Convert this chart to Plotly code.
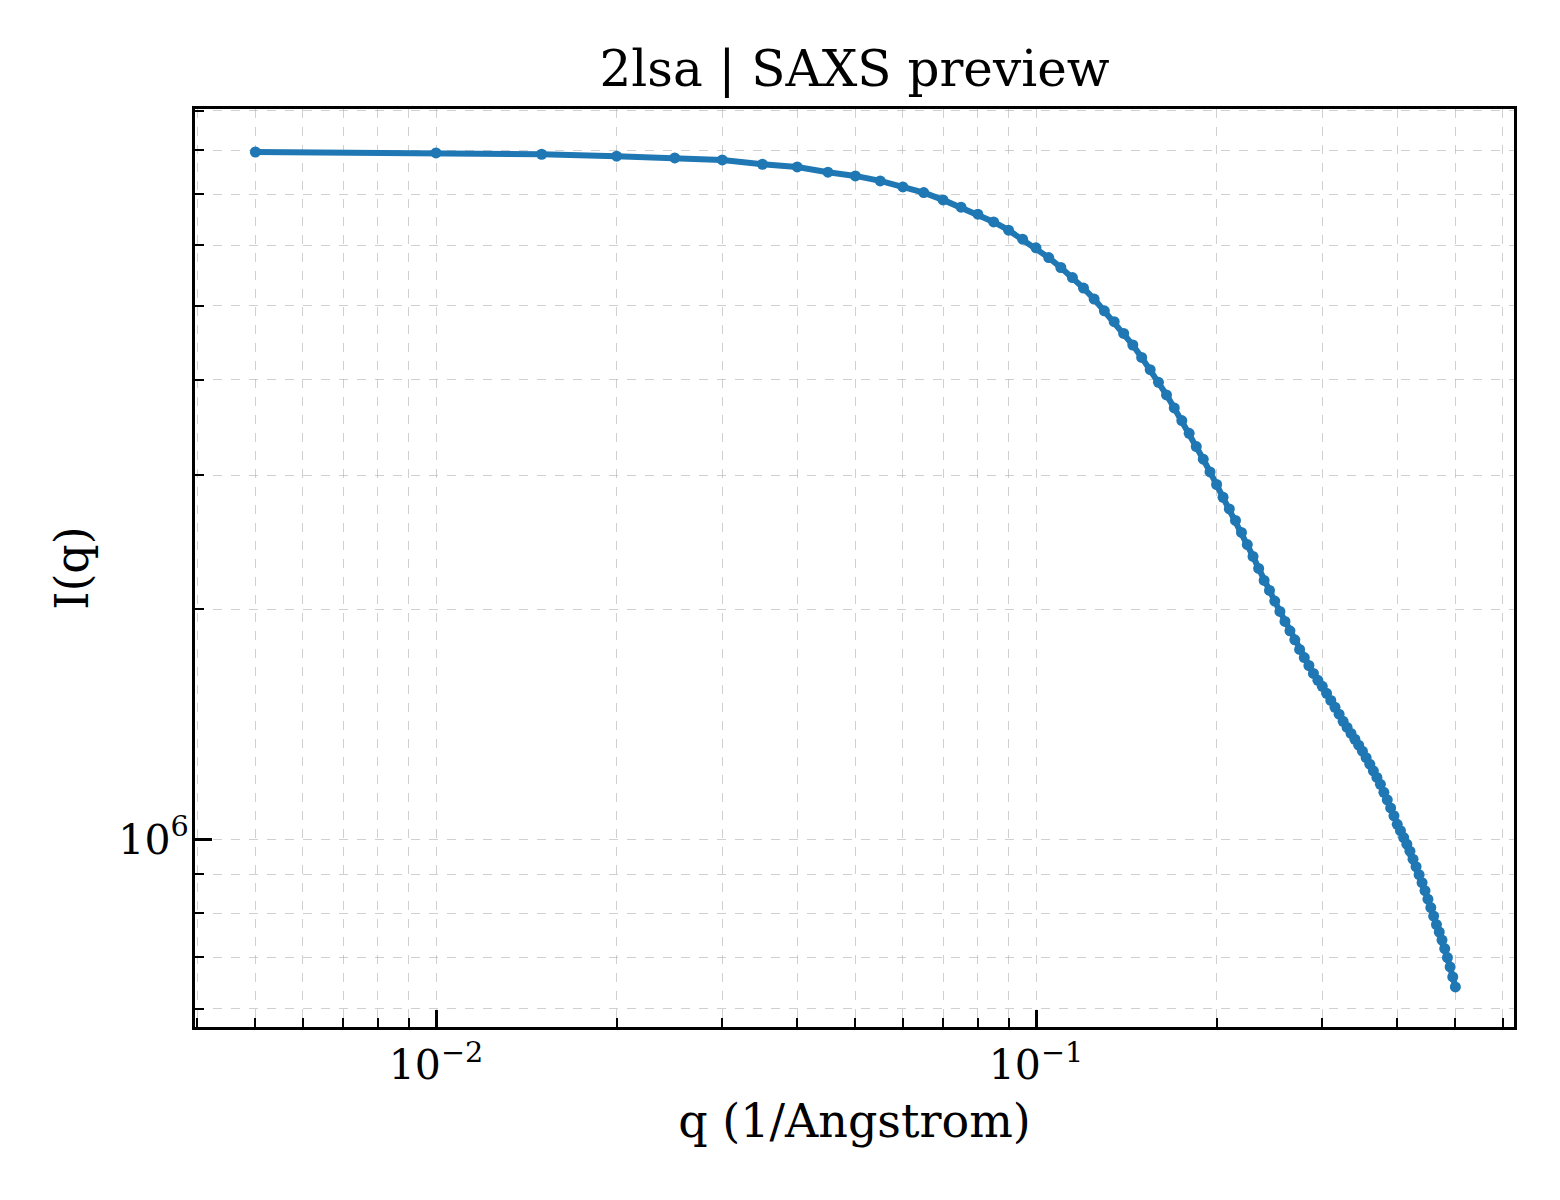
import plotly.graph_objects as go

# q values (1/Angstrom) and intensities
q = [0.005, 0.010, 0.015, 0.020, 0.025, 0.030, 0.035, 0.040, 0.045, 0.050,
     0.055, 0.060, 0.065, 0.070, 0.075, 0.080, 0.085, 0.090, 0.095, 0.100,
     0.105, 0.110, 0.115, 0.120, 0.125, 0.130, 0.135, 0.140, 0.145, 0.150,
     0.155, 0.160, 0.165, 0.170, 0.175, 0.180, 0.185, 0.190, 0.195, 0.200,
     0.205, 0.210, 0.215, 0.220, 0.225, 0.230, 0.235, 0.240, 0.245, 0.250,
     0.255, 0.260, 0.265, 0.270, 0.275, 0.280, 0.285, 0.290, 0.295, 0.300,
     0.305, 0.310, 0.315, 0.320, 0.325, 0.330, 0.335, 0.340, 0.345, 0.350,
     0.355, 0.360, 0.365, 0.370, 0.375, 0.380, 0.385, 0.390, 0.395, 0.400,
     0.405, 0.410, 0.415, 0.420, 0.425, 0.430, 0.435, 0.440, 0.445, 0.450,
     0.455, 0.460, 0.465, 0.470, 0.475, 0.480, 0.485, 0.490, 0.495, 0.500]

intensity = [7.952e6, 7.929e6, 7.898e6, 7.851e6, 7.810e6, 7.763e6, 7.663e6, 7.601e6, 7.481e6, 7.398e6,
             7.288e6, 7.157e6, 7.035e6, 6.882e6, 6.732e6, 6.592e6, 6.440e6, 6.281e6, 6.113e6, 5.955e6,
             5.783e6, 5.612e6, 5.445e6, 5.274e6, 5.102e6, 4.925e6, 4.765e6, 4.600e6, 4.442e6, 4.279e6,
             4.123e6, 3.969e6, 3.821e6, 3.674e6, 3.536e6, 3.403e6, 3.269e6, 3.147e6, 3.029e6, 2.916e6,
             2.806e6, 2.709e6, 2.616e6, 2.523e6, 2.433e6, 2.347e6, 2.264e6, 2.183e6, 2.118e6, 2.051e6,
             1.988e6, 1.929e6, 1.875e6, 1.825e6, 1.773e6, 1.730e6, 1.689e6, 1.649e6, 1.615e6, 1.586e6,
             1.553e6, 1.520e6, 1.489e6, 1.458e6, 1.427e6, 1.401e6, 1.376e6, 1.352e6, 1.328e6, 1.304e6,
             1.279e6, 1.254e6, 1.229e6, 1.205e6, 1.180e6, 1.152e6, 1.126e6, 1.099e6, 1.073e6, 1.046e6,
             1.026e6, 1.005e6, 0.985e6, 0.9645e6, 0.9415e6, 0.9205e6, 0.8985e6, 0.8772e6, 0.8561e6, 0.8346e6,
             0.8136e6, 0.7930e6, 0.7729e6, 0.7556e6, 0.7376e6, 0.7190e6, 0.6998e6, 0.6802e6, 0.6600e6, 0.6403e6]

x_major = [0.01, 0.1]
x_major_text = ["10<sup>\u22122</sup>", "10<sup>\u22121</sup>"]
x_minor = [0.004, 0.005, 0.006, 0.007, 0.008, 0.009,
           0.02, 0.03, 0.04, 0.05, 0.06, 0.07, 0.08, 0.09,
           0.2, 0.3, 0.4, 0.5, 0.6]
y_major = [1e6]
y_major_text = ["10<sup>6</sup>"]
y_minor = [6e5, 7e5, 8e5, 9e5, 2e6, 3e6, 4e6, 5e6, 6e6, 7e6, 8e6, 9e6]

FONT = "DejaVu Serif"
BLUE = "#1f77b4"
GRID = "rgba(176,176,176,0.6)"

W, H = 1552, 1192  # page body adds an 8px offset

fig = go.Figure()
fig.add_trace(go.Scatter(
    x=q, y=intensity, mode="lines+markers",
    line=dict(color=BLUE, width=6),
    marker=dict(color=BLUE, size=11),
    showlegend=False,
))

axis_common = dict(
    type="log",
    showline=True, linecolor="black", linewidth=3, mirror=True,
    ticks="inside", ticklen=17, tickwidth=2.5, tickcolor="black",
    tickmode="array",
    showgrid=True, gridcolor=GRID, gridwidth=1.2, griddash="dash",
    zeroline=False,
    tickfont=dict(family=FONT, size=41, color="black"),
)

minor_common = dict(tickmode="array", ticks="inside",
                    ticklen=9, tickwidth=2, tickcolor="black",
                    showgrid=True, gridcolor=GRID, gridwidth=1.2, griddash="dash")

fig.update_layout(
    width=W, height=H,
    paper_bgcolor="white", plot_bgcolor="white",
    margin=dict(l=187, r=46, t=101, b=173),
    font=dict(family=FONT, color="black"),
    title=dict(text="2lsa | SAXS preview", x=0.5, xref="paper",
               y=1 - 60 / H, yref="container", yanchor="middle",
               font=dict(family=FONT, size=50, color="black")),
    xaxis=dict(
        **axis_common,
        range=[-2.40167, -0.20333],
        tickvals=x_major, ticktext=x_major_text,
        ticklabelstandoff=0,
        minor=dict(**minor_common, tickvals=x_minor),
        title=dict(text="q (1/Angstrom)", font=dict(family=FONT, size=46), standoff=17),
    ),
    yaxis=dict(
        **axis_common,
        range=[5.75393, 6.95681],
        tickvals=y_major, ticktext=y_major_text,
        ticklabelstandoff=-5,
        minor=dict(**minor_common, tickvals=y_minor),
        title=dict(text="I(q)", font=dict(family=FONT, size=46), standoff=16),
    ),
)

fig.write_html("out.html")
